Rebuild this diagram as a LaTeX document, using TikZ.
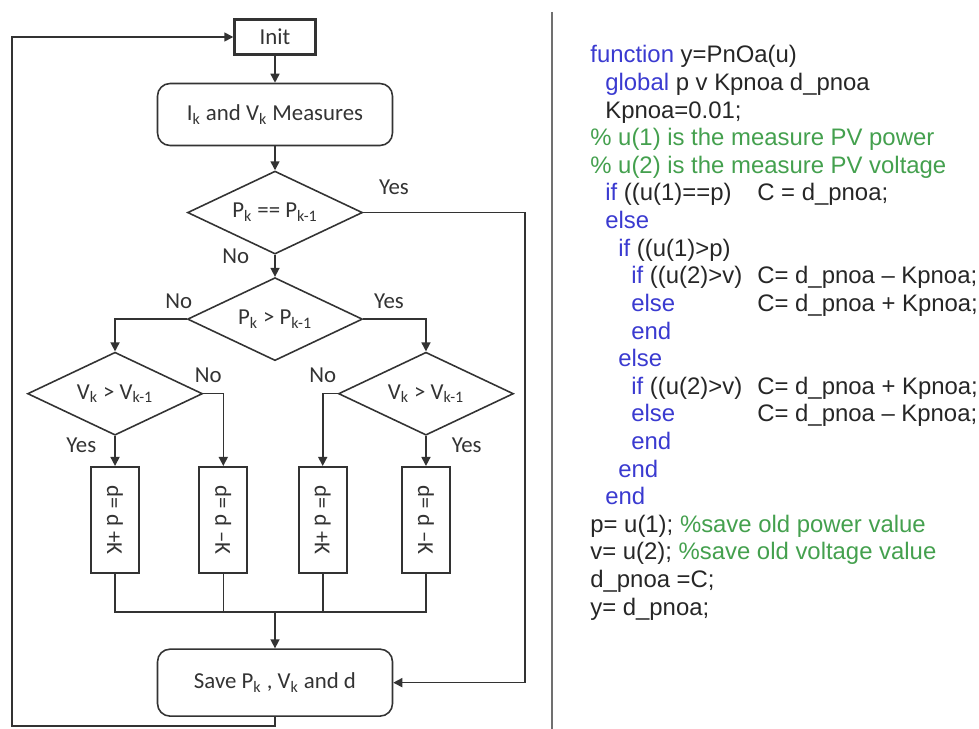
\documentclass[tikz,border=0pt]{standalone}
\usepackage{fontspec}
\usepackage{graphicx}
\usepackage{tikz}
\setmainfont{Carlito}
\newfontfamily\codefont{Liberation Sans}
\usetikzlibrary{arrows.meta, positioning, shapes.geometric}
\definecolor{ink}{HTML}{333333}
\definecolor{kwblue}{HTML}{3A3AD0}
\definecolor{cmtgreen}{HTML}{44A04E}
\definecolor{sepgray}{HTML}{707070}
\newcommand{\kw}[1]{\textcolor{kwblue}{#1}}
\newcommand{\cmt}[1]{\textcolor{cmtgreen}{#1}}

\begin{document}
\begin{tikzpicture}[
    x=0.02cm, y=-0.02cm,
    every node/.style={font=\fontsize{13}{15}\selectfont, text=ink},
    initbox/.style={
        rectangle,
        draw=ink,
        line width=1.4pt,
        minimum width=1.62cm,
        minimum height=0.7cm
    },
    procbox/.style={
        rectangle,
        rounded corners=0.25cm,
        draw=ink,
        line width=0.9pt,
        minimum width=4.7cm,
        minimum height=1.24cm
    },
    decision/.style={
        diamond,
        draw=ink,
        line width=0.9pt,
        minimum width=3.5cm,
        minimum height=1.66cm,
        inner sep=0pt,
        aspect=2
    },
    dbox/.style={
        rectangle,
        draw=ink,
        line width=1.3pt,
        minimum width=0.96cm,
        minimum height=2.12cm,
        inner sep=0pt
    },
    lbl/.style={inner sep=0pt},
    conn/.style={draw=ink, line width=0.9pt},
    arrow/.style={conn, -{Triangle[length=1.8mm, width=1.8mm]}},
    codeline/.style={anchor=base west, inner sep=0pt,
        font=\codefont\fontsize{13.6}{16}\selectfont, text=black!85}
]
\useasboundingbox (0,0) rectangle (979,729);

% flowchart
\node[initbox] (init) at (275,37) {Init};
\node[procbox, below=0.54cm of init] (measures) {I\textsubscript{k} and V\textsubscript{k} Measures};
\node[decision, below=0.48cm of measures] (d1) {P\textsubscript{k} == P\textsubscript{k-1}};
\node[decision, below=0.44cm of d1] (d2) {P\textsubscript{k} > P\textsubscript{k-1}};
\node[decision, below=-0.2cm of d2, xshift=-3.2cm] (d3) {V\textsubscript{k} > V\textsubscript{k-1}};
\node[decision, below=-0.2cm of d2, xshift=3.02cm] (d4) {V\textsubscript{k} > V\textsubscript{k-1}};

\node[dbox, below=0.6cm of d3] (box1) {\rotatebox{-90}{d= d +K}};
\node[dbox, below=0.6cm of d4] (box4) {\rotatebox{-90}{d= d \textendash{}K}};
\node[dbox, right=1.16cm of box1] (box2) {\rotatebox{-90}{d= d \textendash{}K}};
\node[dbox, left=1.06cm of box4] (box3) {\rotatebox{-90}{d= d +K}};

\node[procbox, below=5.74cm of d2, minimum height=1.34cm] (save) {Save P\textsubscript{k} , V\textsubscript{k} and d};

\draw[arrow] (init) -- (measures);
\draw[arrow] (measures) -- (d1);
\draw[arrow] (d1) -- node[lbl, pos=0.05, left=0.5cm] (no1) {No} (d2);
\draw[arrow] (d1.east) -- node[lbl, pos=0, above right=0.35cm and 0.3cm] (yes1) {Yes} ++(162,0) |- (save.east);
\draw[arrow] (d2.west) -| node[lbl, pos=0, above=0.2cm, xshift=-0.16cm] (no2) {No} (d3.north);
\draw[arrow] (d2.east) -| node[lbl, pos=0, above right=0.2cm and 0.2cm] (yes2) {Yes} (d4.north);
\draw[arrow] (d3.east) -| node[lbl, pos=0, above=0.2cm, xshift=0.1cm] (no3) {No} (box2.north);
\draw[arrow] (d3) -- node[lbl, pos=0.3, left=0.36cm] (yes3) {Yes} (box1);
\draw[arrow] (d4.west) -| node[lbl, pos=0, above=0.2cm, xshift=-0.3cm] (no4) {No} (box3.north);
\draw[arrow] (d4) -- node[lbl, pos=0.3, right=0.5cm] (yes4) {Yes} (box4);

% join of the four branches
\draw[conn] (box1.south) -- ++(0,38) coordinate (bus) -| (box4.south);
\draw[conn] (box2.south) -- (box2.south |- bus);
\draw[conn] (box3.south) -- (box3.south |- bus);
\draw[arrow] (bus -| save) -- (save);

% loop back
\draw[arrow] (save.south) |- ++(-263,9) |- (init.west);

% separator
\draw[sepgray, line width=1.1pt] (552,12) -- (552,729);

% code listing
\node[codeline] (c1) at (590,63) {\kw{function} y=PnOa(u)};
\node[codeline] (c2) at (605,90.6) {\kw{global} p v Kpnoa d\_pnoa};
\node[codeline] (c3) at (605,118.2) {Kpnoa=0.01;};
\node[codeline] (c4) at (590,145.8) {\cmt{\% u(1) is the measure PV power}};
\node[codeline] (c5) at (590,173.4) {\cmt{\% u(2) is the measure PV voltage}};
\node[codeline] (c6) at (605,201) {\kw{if} ((u(1)==p)};
\node[codeline] (c6r) at (757,201) {C = d\_pnoa;};
\node[codeline] (c7) at (605,228.6) {\kw{else}};
\node[codeline] (c8) at (618,256.2) {\kw{if} ((u(1)>p)};
\node[codeline] (c9) at (631,283.8) {\kw{if} ((u(2)>v)};
\node[codeline] (c9r) at (757,283.8) {C= d\_pnoa \textendash{} Kpnoa;};
\node[codeline] (c10) at (631,311.4) {\kw{else}};
\node[codeline] (c10r) at (757,311.4) {C= d\_pnoa + Kpnoa;};
\node[codeline] (c11) at (631,339) {\kw{end}};
\node[codeline] (c12) at (618,366.6) {\kw{else}};
\node[codeline] (c13) at (631,394.2) {\kw{if} ((u(2)>v)};
\node[codeline] (c13r) at (757,394.2) {C= d\_pnoa + Kpnoa;};
\node[codeline] (c14) at (631,421.8) {\kw{else}};
\node[codeline] (c14r) at (757,421.8) {C= d\_pnoa \textendash{} Kpnoa;};
\node[codeline] (c15) at (631,449.4) {\kw{end}};
\node[codeline] (c16) at (618,477) {\kw{end}};
\node[codeline] (c17) at (605,504.6) {\kw{end}};
\node[codeline] (c18) at (590,532.2) {p= u(1); \cmt{\%save old power value}};
\node[codeline] (c19) at (590,559.8) {v= u(2); \cmt{\%save old voltage value}};
\node[codeline] (c20) at (590,587.4) {d\_pnoa =C;};
\node[codeline] (c21) at (590,615) {y= d\_pnoa;};

\end{tikzpicture}
\end{document}
